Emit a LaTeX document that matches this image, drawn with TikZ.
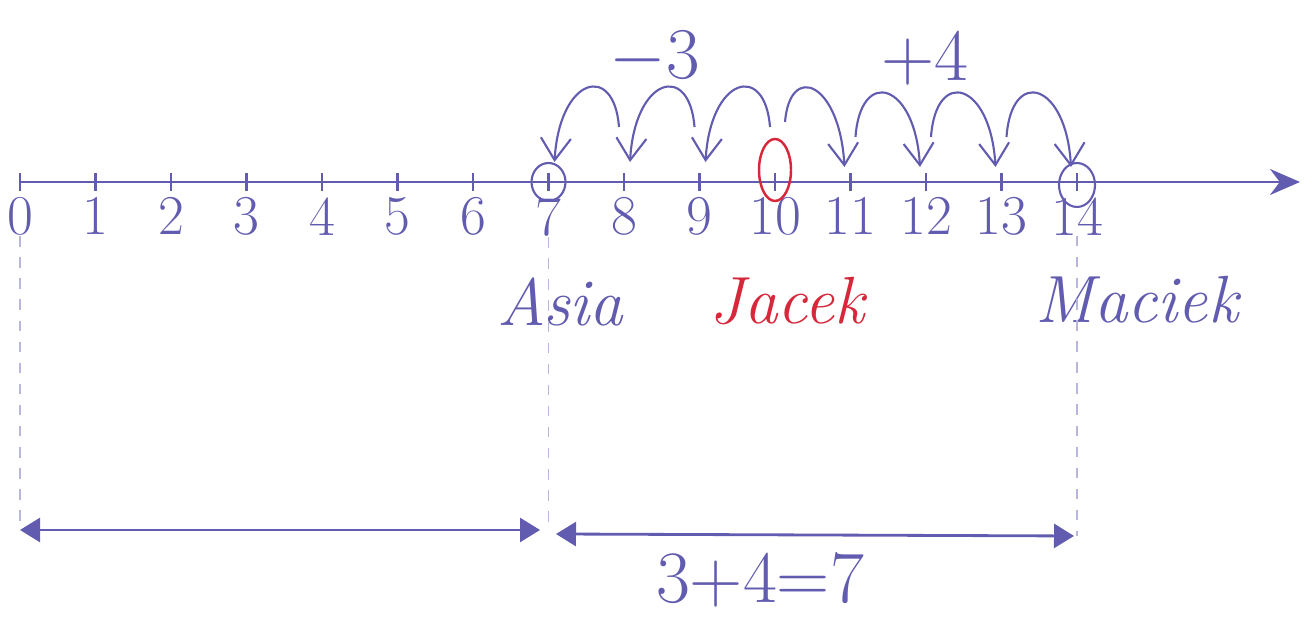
\documentclass[tikz,border=0pt]{standalone}
\usepackage{tikz}
\usetikzlibrary{arrows.meta,positioning}
\definecolor{ink}{RGB}{98,92,176}
\definecolor{pen}{RGB}{214,40,58}

\begin{document}
\begin{tikzpicture}[
  x=0.1mm, y=0.1mm, >={Stealth[length=3mm, width=2.6mm]},
  ink/.style={draw=ink, line width=0.8pt},
  tick/.style={inner sep=0pt, minimum height=1.6mm, minimum width=0pt},
  num/.style={text=ink, inner sep=0pt, font=\fontsize{16}{16}\selectfont},
  who/.style={text=ink, inner sep=0pt, font=\fontsize{19}{19}\selectfont\itshape},
  big/.style={text=ink, inner sep=0pt, font=\fontsize{21}{21}\selectfont},
  jump/.style={draw=ink, line width=0.6pt, -{Straight Barb[length=2.2mm, width=3mm]}},
  span/.style={draw=ink, line width=0.8pt,
               {Triangle[length=2mm, width=2.4mm]}-{Triangle[length=2mm, width=2.4mm]}},
  guide/.style={draw=ink!45, line width=0.4pt, dashed}
]
\useasboundingbox (0,0) rectangle (1312,618);
% number line
\foreach \i in {0,...,14} {
  \node[tick] (t\i) at ({20+75.5*\i},436) {};
  \node[num, below=0.6mm of t\i] (n\i) {\i};
}
\coordinate (tip) at (1300,436);
\draw[ink, ->] (t0.center) -- (tip);
\foreach \i in {0,...,14} \draw[ink] (t\i.north) -- (t\i.south);
% marked points
\draw[ink, line width=0.6pt] (t7.center) ellipse [x radius=1.7mm, y radius=1.9mm];
\draw[ink, line width=0.6pt] ([shift={(0,-3)}]t14.center) ellipse [x radius=1.8mm, y radius=2.2mm];
\draw[draw=pen, line width=0.7pt] ([shift={(0,12)}]t10.center) ellipse [x radius=1.6mm, y radius=3.1mm];
% jumps
\foreach \a/\b in {10/9,9/8,8/7}
  \draw[jump] ([shift={(-5,55)}]t\a.center) .. controls +(-5,65) and +(5,85) .. ([shift={(6,20)}]t\b.center);
\draw[jump] ([shift={(10,60)}]t10.center) .. controls +(5,60) and +(-5,85) .. ([shift={(-6,15)}]t11.center);
\foreach \a/\b in {11/12,12/13,13/14}
  \draw[jump] ([shift={(5,45)}]t\a.center) .. controls +(5,70) and +(-5,85) .. ([shift={(-6,15)}]t\b.center);
\node[big] (minus) at (655,560) {$-3$};
\node[big] (plus) at (925,560) {+4};
% names
\node[who, below=4mm of n7, xshift=1.2mm] (asia) {Asia};
\node[who, text=pen, below=4mm of n10, xshift=1.2mm] (jacek) {Jacek};
\node[who, below=4mm of n14, xshift=6mm] (maciek) {Maciek};
% distances
\coordinate (b0) at (20,88);
\coordinate (b7l) at (540,88);
\coordinate (b7r) at (556,84);
\coordinate (b14) at (1074,82);
\draw[guide] (n0.south) -- (n0.south |- b0);
\draw[guide] (n7.south) -- (n7.south |- b7l);
\draw[guide] (n14.south) -- (n14.south |- b14);
\draw[span] (b0) -- (b7l);
\draw[span] (b7r) -- (b14);
\node[big] (sum) at (760,38) {3+4=7};
\end{tikzpicture}
\end{document}
